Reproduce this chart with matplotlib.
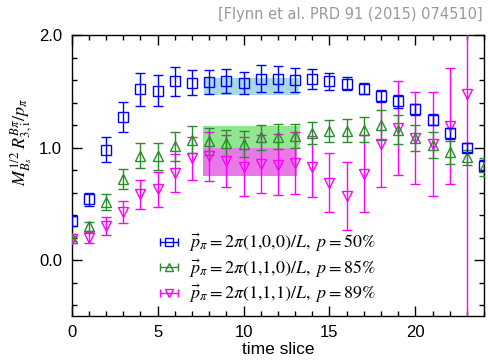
import numpy as np
import matplotlib
matplotlib.use("Agg")
import matplotlib.pyplot as plt
from matplotlib.ticker import MultipleLocator

plt.rcParams['mathtext.fontset'] = 'stix'

# time slices
t_blue = np.arange(0, 25)
t_green = np.arange(0, 25)
t_mag = np.arange(0, 24)

# p = 2pi(1,0,0)/L
blue_y = [0.35, 0.54, 0.98, 1.27, 1.52, 1.505, 1.59, 1.578, 1.583, 1.592, 1.574, 1.613, 1.612,
          1.600, 1.607, 1.589, 1.568, 1.524, 1.458, 1.41, 1.34, 1.247, 1.128, 0.997, 0.838]
blue_err = [0.045, 0.06, 0.11, 0.134, 0.147, 0.137, 0.13, 0.11, 0.11, 0.11, 0.10, 0.12, 0.115,
            0.105, 0.09, 0.077, 0.06, 0.05, 0.05, 0.055, 0.05, 0.05, 0.05, 0.04, 0.05]

# p = 2pi(1,1,0)/L
green_y = [0.20, 0.30, 0.52, 0.72, 0.928, 0.922, 1.01, 1.071, 1.056, 1.04, 1.033, 1.092, 1.098,
           1.107, 1.128, 1.146, 1.152, 1.158, 1.20, 1.16, 1.087, 1.027, 0.958, 0.913, 0.83]
green_err = [0.03, 0.04, 0.07, 0.09, 0.11, 0.12, 0.125, 0.12, 0.12, 0.115, 0.115, 0.11, 0.11,
             0.107, 0.10, 0.10, 0.10, 0.11, 0.13, 0.128, 0.116, 0.115, 0.10, 0.07, 0.08]

# p = 2pi(1,1,1)/L
mag_y = [0.185, 0.20, 0.30, 0.43, 0.586, 0.63, 0.774, 0.905, 0.922, 0.884, 0.83, 0.854, 0.848,
         0.86, 0.83, 0.69, 0.571, 0.77, 1.033, 1.176, 1.087, 1.033, 1.196, 1.48]
mag_err = [0.03, 0.05, 0.08, 0.10, 0.13, 0.155, 0.17, 0.19, 0.215, 0.23, 0.26, 0.26, 0.27,
           0.275, 0.27, 0.26, 0.305, 0.345, 0.38, 0.42, 0.41, 0.46, 0.515, 3.0]

# fit bands: (t_start, t_end, value, error)
blue_fit = (7.7, 13.2, 1.545, 0.075)
green_fit = (7.65, 13.3, 1.095, 0.095)
mag_fit = (7.65, 13.1, 0.875, 0.125)

labels = [r'$\vec{p}_\pi = 2\pi(1{,}0{,}0)/L,\ p = 50\%$',
          r'$\vec{p}_\pi = 2\pi(1{,}1{,}0)/L,\ p = 85\%$',
          r'$\vec{p}_\pi = 2\pi(1{,}1{,}1)/L,\ p = 89\%$']

c_blue = '#0000ff'
c_green = '#2a8c2a'
c_mag = '#ff00ff'

fig = plt.figure(figsize=(4.88, 3.62), dpi=100)
ax = fig.add_axes([0.147, 0.126, 0.845, 0.777])

# bands
for (x0, x1, v, e), col in [(blue_fit, '#a8d8e6'), (green_fit, '#8fe88f'), (mag_fit, '#e87ae8')]:
    ax.fill_between([x0, x1], v - e, v + e, color=col, lw=0, zorder=1)

kw = dict(fillstyle='none', ls='none', capsize=3.5, elinewidth=1.0, capthick=1.0,
          markersize=6.5, mew=1.0, zorder=3)
ax.errorbar(t_mag, mag_y, yerr=mag_err, marker='v', color=c_mag, **kw)
ax.errorbar(t_green, green_y, yerr=green_err, marker='^', color=c_green, **kw)
ax.errorbar(t_blue, blue_y, yerr=blue_err, marker='s', color=c_blue, **kw)

# legend proxies with horizontal bars
for m, col, lab in [('s', c_blue, labels[0]), ('^', c_green, labels[1]), ('v', c_mag, labels[2])]:
    ax.errorbar([np.nan], [np.nan], xerr=[1], marker=m, color=col, fillstyle='none',
                ls='none', capsize=3, elinewidth=1.0, markersize=6, mew=1.0, label=lab)

ax.legend(loc='center left', bbox_to_anchor=(0.215, 0.17), frameon=False,
          fontsize=13, handlelength=1.0, handletextpad=0.6, labelspacing=0.2,
          borderpad=0, borderaxespad=0)

ax.set_xlim(0, 24)
ax.set_ylim(-0.5, 2.0)
ax.xaxis.set_major_locator(MultipleLocator(5))
ax.xaxis.set_minor_locator(MultipleLocator(1))
ax.yaxis.set_major_locator(MultipleLocator(1.0))
ax.yaxis.set_minor_locator(MultipleLocator(0.2))
ax.tick_params(which='both', direction='in', top=True, right=True, width=1.0)
ax.tick_params(which='major', length=7)
ax.tick_params(which='minor', length=3.5)
ax.tick_params(axis='x', pad=6)
ax.tick_params(axis='y', pad=7)
ax.set_yticks([0.0, 1.0, 2.0])
ax.set_yticklabels(['0.0', '1.0', '2.0'])
for lab in ax.get_xticklabels() + ax.get_yticklabels():
    lab.set_fontfamily('Liberation Sans')
    lab.set_fontsize(12)
for s in ax.spines.values():
    s.set_linewidth(1.0)

ax.set_xlabel('time slice', fontsize=12.5, family='Liberation Sans', labelpad=2)
ax.set_ylabel(r'$M_{B_s}^{1/2}\;R_{3,\mathrm{i}}^{B\pi}/p_\pi$', fontsize=13)
ax.yaxis.set_label_coords(-0.09, 0.62)

fig.text(0.99, 0.96, '[Flynn et al. PRD 91 (2015) 074510]', ha='right', va='center',
         color='#999999', fontsize=10.5, family='DejaVu Sans')

fig.savefig('out.png', dpi=100)
